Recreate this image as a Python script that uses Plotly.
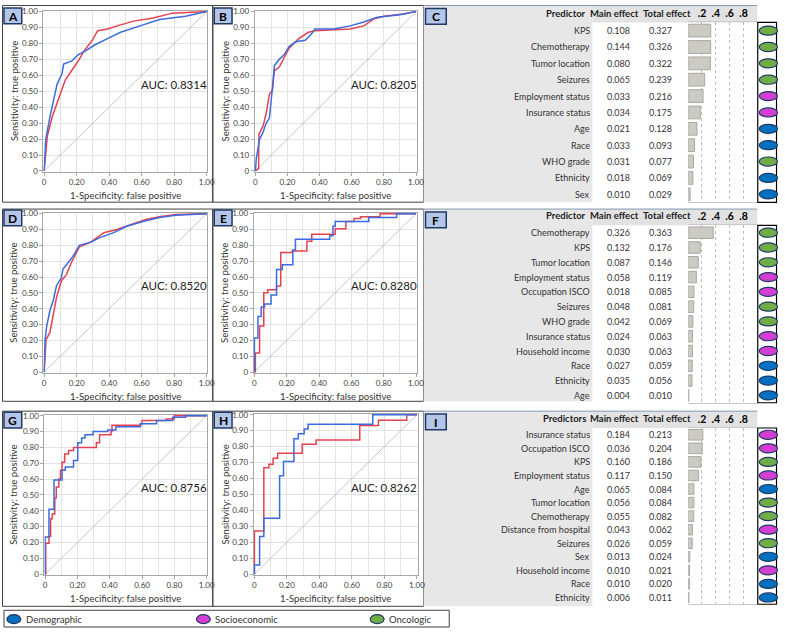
import plotly.graph_objects as go

W, H = 785, 633
FONT = "Lato"

# ROC curves (x = 1-specificity, y = sensitivity)
a_blue_x = [0, 0.01, 0.04, 0.08, 0.11, 0.12, 0.17, 0.21, 0.25, 0.31, 0.39, 0.47, 0.59, 0.71, 0.87, 1.0]
a_blue_y = [0, 0.20, 0.36, 0.545, 0.61, 0.67, 0.69, 0.73, 0.75, 0.79, 0.83, 0.87, 0.91, 0.95, 0.97, 1.0]
a_red_x = [0, 0.02, 0.05, 0.09, 0.13, 0.17, 0.21, 0.25, 0.29, 0.33, 0.39, 0.45, 0.55, 0.67, 0.79, 1.0]
a_red_y = [0, 0.22, 0.34, 0.46, 0.57, 0.63, 0.69, 0.76, 0.81, 0.88, 0.89, 0.91, 0.94, 0.96, 0.99, 1.0]

b_blue_x = [0, 0.006, 0.016, 0.026, 0.047, 0.067, 0.087, 0.097, 0.107, 0.118, 0.148, 0.18, 0.21, 0.25,
            0.31, 0.35, 0.37, 0.49, 0.59, 0.675, 0.76, 0.9, 1.0]
b_blue_y = [0, 0.08, 0.14, 0.2, 0.24, 0.3, 0.33, 0.42, 0.53, 0.66, 0.7, 0.73, 0.78, 0.81,
            0.82, 0.86, 0.89, 0.89, 0.91, 0.935, 0.965, 0.98, 1.0]
b_red_x = [0, 0.02, 0.022, 0.047, 0.067, 0.087, 0.107, 0.118, 0.148, 0.18, 0.21, 0.27, 0.33, 0.37,
           0.59, 0.675, 0.74, 0.8, 0.92, 1.0]
b_red_y = [0, 0.015, 0.23, 0.28, 0.36, 0.48, 0.51, 0.63, 0.65, 0.71, 0.77, 0.83, 0.87, 0.88,
           0.89, 0.91, 0.955, 0.97, 0.985, 1.0]

d_blue_x = [0, 0.006, 0.016, 0.036, 0.056, 0.076, 0.106, 0.116, 0.147, 0.177, 0.217, 0.287, 0.347,
            0.428, 0.508, 0.608, 0.71, 0.81, 1.0]
d_blue_y = [0, 0.205, 0.29, 0.39, 0.45, 0.545, 0.595, 0.65, 0.69, 0.73, 0.8, 0.82, 0.85,
            0.88, 0.92, 0.95, 0.975, 0.99, 1.0]
d_red_x = [0, 0.006, 0.012, 0.036, 0.056, 0.076, 0.106, 0.137, 0.167, 0.217, 0.287, 0.367, 0.448,
           0.548, 0.63, 0.71, 0.81, 1.0]
d_red_y = [0, 0.12, 0.205, 0.25, 0.35, 0.47, 0.575, 0.615, 0.69, 0.79, 0.82, 0.88, 0.9,
           0.935, 0.965, 0.98, 0.995, 1.0]

e_blue_x = [0, 0, 0.022, 0.042, 0.0625, 0.103, 0.137, 0.173, 0.238, 0.254, 0.466, 0.486, 0.5, 0.708, 0.88, 1.0]
e_blue_y = [0, 0.215, 0.35, 0.41, 0.43, 0.487, 0.647, 0.678, 0.77, 0.838, 0.86, 0.92, 0.95, 0.975, 1.0, 1.0]
e_red_x = [0, 0.006, 0.032, 0.058, 0.083, 0.137, 0.163, 0.234, 0.325, 0.355, 0.5, 0.566, 0.617, 0.657, 0.778, 1.0]
e_red_y = [0, 0.12, 0.29, 0.5, 0.52, 0.544, 0.754, 0.764, 0.825, 0.87, 0.905, 0.95, 0.97, 0.98, 1.0, 1.0]

g_blue_x = [0, 0, 0.024, 0.055, 0.105, 0.125, 0.176, 0.202, 0.226, 0.247, 0.297, 0.388, 0.438,
            0.59, 0.69, 0.79, 0.87, 1.0]
g_blue_y = [0, 0.235, 0.41, 0.594, 0.656, 0.676, 0.717, 0.83, 0.86, 0.88, 0.9, 0.91, 0.93,
            0.95, 0.97, 0.99, 1.0, 1.0]
g_red_x = [0, 0.004, 0.024, 0.034, 0.044, 0.06, 0.069, 0.085, 0.095, 0.105, 0.121, 0.145, 0.176,
           0.287, 0.317, 0.337, 0.408, 0.414, 0.59, 0.6, 0.75, 0.8, 1.0]
g_red_y = [0, 0.195, 0.24, 0.35, 0.38, 0.48, 0.55, 0.6, 0.656, 0.707, 0.758, 0.78, 0.8,
           0.8, 0.83, 0.88, 0.9, 0.94, 0.95, 0.97, 0.98, 1.0, 1.0]

h_blue_x = [0, 0, 0.032, 0.058, 0.155, 0.179, 0.243, 0.27, 0.306, 0.33, 0.728, 1.0]
h_blue_y = [0, 0.057, 0.236, 0.35, 0.617, 0.707, 0.85, 0.88, 0.91, 0.94, 1.0, 1.0]
h_red_x = [0, 0, 0.058, 0.089, 0.115, 0.143, 0.294, 0.38, 0.648, 0.763, 0.937, 1.0]
h_red_y = [0, 0.27, 0.668, 0.69, 0.727, 0.758, 0.815, 0.842, 0.932, 0.965, 1.0, 1.0]

diag = [0, 1]
auc_texts = ["AUC: 0.8314", "AUC: 0.8205", "AUC: 0.8520", "AUC: 0.8280", "AUC: 0.8756", "AUC: 0.8262"]
x_ticks = [0, 0.2, 0.4, 0.6, 0.8, 1.0]
x_tick_text = ["0", "0.20", "0.40", "0.60", "0.80", "1.00"]
y_ticks = [0, 0.1, 0.2, 0.3, 0.4, 0.5, 0.6, 0.7, 0.8, 0.9, 1.0]
y_tick_text = ["0", "0.10", "0.20", "0.30", "0.40", "0.50", "0.60", "0.70", "0.80", "0.90", "1.00"]

# variable importance tables
c_predictors = ["KPS", "Chemotherapy", "Tumor location", "Seizures", "Employment status",
                "Insurance status", "Age", "Race", "WHO grade", "Ethnicity", "Sex"]
c_main = [0.108, 0.144, 0.080, 0.065, 0.033, 0.034, 0.021, 0.033, 0.031, 0.018, 0.010]
c_total = [0.327, 0.326, 0.322, 0.239, 0.216, 0.175, 0.128, 0.093, 0.077, 0.069, 0.029]
c_group = ["Oncologic", "Oncologic", "Oncologic", "Oncologic", "Socioeconomic", "Socioeconomic",
           "Demographic", "Demographic", "Oncologic", "Demographic", "Demographic"]

f_predictors = ["Chemotherapy", "KPS", "Tumor location", "Employment status", "Occupation ISCO",
                "Seizures", "WHO grade", "Insurance status", "Household income", "Race", "Ethnicity", "Age"]
f_main = [0.326, 0.132, 0.087, 0.058, 0.018, 0.048, 0.042, 0.024, 0.030, 0.027, 0.035, 0.004]
f_total = [0.363, 0.176, 0.146, 0.119, 0.085, 0.081, 0.069, 0.063, 0.063, 0.059, 0.056, 0.010]
f_group = ["Oncologic", "Oncologic", "Oncologic", "Socioeconomic", "Socioeconomic", "Oncologic",
           "Oncologic", "Socioeconomic", "Socioeconomic", "Demographic", "Demographic", "Demographic"]

i_predictors = ["Insurance status", "Occupation ISCO", "KPS", "Employment status", "Age",
                "Tumor location", "Chemotherapy", "Distance from hospital", "Seizures", "Sex",
                "Household income", "Race", "Ethnicity"]
i_main = [0.184, 0.036, 0.160, 0.117, 0.065, 0.056, 0.055, 0.043, 0.026, 0.013, 0.010, 0.010, 0.006]
i_total = [0.213, 0.204, 0.186, 0.150, 0.084, 0.084, 0.082, 0.062, 0.059, 0.024, 0.021, 0.020, 0.011]
i_group = ["Socioeconomic", "Socioeconomic", "Oncologic", "Socioeconomic", "Demographic",
           "Oncologic", "Oncologic", "Socioeconomic", "Oncologic", "Demographic",
           "Socioeconomic", "Demographic", "Demographic"]

bar_ticks = [0.2, 0.4, 0.6, 0.8]
bar_tick_text = [".2", ".4", ".6", ".8"]
groups = ["Demographic", "Socioeconomic", "Oncologic"]
group_colors = {"Demographic": "#0070c0", "Socioeconomic": "#d23fd2", "Oncologic": "#70ad47"}

BLUE = "#3b6be0"
RED = "#e5414f"
GRID = "#e3e3e3"
DARK = "#404040"


def fx(p):
    return p / W


def fy(p):
    return 1 - p / H


fig = go.Figure()
shapes = []
annotations = []
layout = {}


def rect(x0, y0, x1, y1, fill="rgba(0,0,0,0)", line=None, lw=1.0):
    shapes.append(dict(type="rect", xref="paper", yref="paper", layer="below",
                       x0=fx(x0), x1=fx(x1), y0=fy(y1), y1=fy(y0), fillcolor=fill,
                       line=dict(color=line or "rgba(0,0,0,0)", width=lw if line else 0)))


def text(x, y, s, size=9, color="#333333", xanchor="center", bold=False, angle=0):
    annotations.append(dict(x=fx(x), y=fy(y), xref="paper", yref="paper", text=s, showarrow=False,
                            xanchor=xanchor, yanchor="middle", textangle=angle, borderpad=0,
                            font=dict(family=FONT, size=size, color=color,
                                      weight="bold" if bold else "normal")))


# panel frames: (top, bottom) of each row
rows = [(0.5, 200), (207, 402), (412, 610)]
for top, bot in rows:
    rect(0.5, top, 213.5, bot, line=DARK, lw=1)
    rect(213.5, top, 427, bot, line=DARK, lw=1)

# ROC panels
roc_curves = [
    (a_blue_x, a_blue_y, a_red_x, a_red_y, "linear"),
    (b_blue_x, b_blue_y, b_red_x, b_red_y, "linear"),
    (d_blue_x, d_blue_y, d_red_x, d_red_y, "linear"),
    (e_blue_x, e_blue_y, e_red_x, e_red_y, "hv"),
    (g_blue_x, g_blue_y, g_red_x, g_red_y, "hv"),
    (h_blue_x, h_blue_y, h_red_x, h_red_y, "hv"),
]
roc_boxes = [(42, 208, 6, 169), (256, 420, 6, 169), (42, 208, 211, 373),
             (255, 420, 211, 373), (43, 208, 416, 578), (255, 421, 415, 578)]
roc_letters = ["A", "B", "D", "E", "G", "H"]
xtitle_y = [193, 193, 397, 397, 602, 602]
ytitle_x = [12, 226, 12, 226, 12, 226]
letter_boxes = [(2, 3), (215, 3), (2, 208), (215, 208), (2, 413), (215, 413)]

for k in range(6):
    n = k + 1
    xs = "x" if n == 1 else f"x{n}"
    ys = "y" if n == 1 else f"y{n}"
    bx, by, rx, ry, shape = roc_curves[k]
    x0, x1, y0, y1 = roc_boxes[k]
    fig.add_trace(go.Scatter(x=diag, y=diag, mode="lines", line=dict(color="#b8b8b8", width=0.8),
                             xaxis=xs, yaxis=ys, hoverinfo="skip"))
    fig.add_trace(go.Scatter(x=rx, y=ry, mode="lines", line=dict(color=RED, width=1.5, shape=shape),
                             xaxis=xs, yaxis=ys))
    fig.add_trace(go.Scatter(x=bx, y=by, mode="lines", line=dict(color=BLUE, width=1.5, shape=shape),
                             xaxis=xs, yaxis=ys))
    axis_common = dict(showline=True, linecolor="#a6a6a6", mirror=True, ticks="outside", ticklen=3,
                       tickcolor="#a6a6a6", tickfont=dict(family=FONT, size=8, color="#404040"),
                       zeroline=False, showgrid=True, gridcolor=GRID, gridwidth=1)
    layout["xaxis" if n == 1 else f"xaxis{n}"] = dict(
        domain=[fx(x0), fx(x1)], range=[-0.004, 1.004], anchor=ys,
        tickvals=x_ticks, ticktext=x_tick_text,
        minor=dict(tickvals=[0.1, 0.3, 0.5, 0.7, 0.9], showgrid=True, gridcolor=GRID, ticks=""),
        **axis_common)
    layout["yaxis" if n == 1 else f"yaxis{n}"] = dict(
        domain=[fy(y1), fy(y0)], range=[-0.004, 1.004], anchor=xs,
        tickvals=y_ticks, ticktext=y_tick_text, **axis_common)
    annotations.append(dict(x=0.8, y=0.545, xref=xs, yref=ys, text=auc_texts[k], showarrow=False,
                            font=dict(family=FONT, size=11.5, color="#222222")))
    text((x0 + x1) / 2, xtitle_y[k], "1-Specificity: false positive", size=9.5)
    text(ytitle_x[k], (y0 + y1) / 2, "Sensitivity: true positive", size=9.5, angle=-90)
    lx, ly = letter_boxes[k]
    rect(lx, ly, lx + 18, ly + 16, fill="#b4c6e7", line="#1f3864", lw=1.5)
    text(lx + 9, ly + 8.5, roc_letters[k], size=12, color="black", bold=True)

# importance tables
tables = [
    ("C", "Predictor", c_predictors, c_main, c_total, c_group, 0.5, 200, 9, 26, 16.6),
    ("F", "Predictor", f_predictors, f_main, f_total, f_group, 207, 402, 214, 231, 15.0),
    ("I", "Predictors", i_predictors, i_main, i_total, i_group, 412, 610, 419, 436, 13.75),
]
for t, (letter, head, names, main, total, grp, top, bot, head_y, first, step) in enumerate(tables):
    n = 7 + t
    nrow = len(names)
    d_top = first - step / 2
    d_bot = first + (nrow - 1) * step + step / 2
    # gray panel parts
    rect(427, top, 598, bot, fill="#e7e7e7")
    rect(598, top, 765, d_top, fill="#e2e2e2")
    shapes.append(dict(type="line", xref="paper", yref="paper", layer="below",
                       x0=fx(427), x1=fx(765), y0=fy(top), y1=fy(top),
                       line=dict(color="#8497b0", width=1)))
    rect(765.5, d_top, 784.5, d_bot, fill="white", line="black", lw=1.2)
    rect(429, top + 3, 450, top + 19, fill="#b4c6e7", line="#1f3864", lw=1.5)
    text(439.5, top + 11.5, letter, size=12, color="black", bold=True)

    rows_idx = list(range(nrow))
    fig.add_trace(go.Bar(x=total, y=rows_idx, orientation="h", width=0.78,
                         marker=dict(color="#cbcbc4", line=dict(color="#a9a9a2", width=1)),
                         xaxis=f"x{n}", yaxis=f"y{n}"))
    layout[f"xaxis{n}"] = dict(domain=[fx(695), fx(765)], range=[0, 1], anchor=f"y{n}", side="top",
                               tickvals=bar_ticks, ticktext=bar_tick_text, ticks="",
                               showgrid=True, griddash="dot", gridcolor="#bdbdbd",
                               showline=True, linecolor="#c9c9c9", mirror=True, zeroline=False,
                               tickfont=dict(family=FONT, size=10.5, color="black", weight="bold"))
    layout[f"yaxis{n}"] = dict(domain=[fy(d_bot), fy(d_top)], range=[nrow - 0.5, -0.5], anchor=f"x{n}",
                               showticklabels=False, showgrid=False, zeroline=False, showline=False)

    text(593, head_y, head, size=9.5, color="#222222", bold=True, xanchor="right")
    text(620, head_y, "Main effect", size=9.5, color="#222222", bold=True)
    text(674, head_y, "Total effect", size=9.5, color="#222222", bold=True)
    half = 4.6 / step
    for r in rows_idx:
        yy = first + r * step
        text(597, yy, names[r], size=9, xanchor="right")
        text(624, yy, f"{main[r]:.3f}", size=9)
        text(667, yy, f"{total[r]:.3f}", size=9)
        shapes.append(dict(type="circle", xref="paper", yref=f"y{n}", x0=fx(767), x1=fx(785.5),
                           y0=r - half, y1=r + half, fillcolor=group_colors[grp[r]],
                           line=dict(color="#1f3864", width=1.2)))

# legend strip
rect(2, 614, 453, 631, fill="white", line=DARK, lw=1)
legend_x = [5, 197, 373]
for g, lx in zip(groups, legend_x):
    shapes.append(dict(type="circle", xref="paper", yref="paper", x0=fx(lx), x1=fx(lx + 14),
                       y0=fy(627.5), y1=fy(618.5), fillcolor=group_colors[g],
                       line=dict(color="#1f3864", width=1.2)))
    text(lx + 18, 623, g, size=9.5, xanchor="left")

fig.update_layout(
    width=W, height=H, margin=dict(l=0, r=0, t=0, b=0),
    paper_bgcolor="white", plot_bgcolor="white", showlegend=False,
    font=dict(family=FONT), shapes=shapes, annotations=annotations, bargap=0.2,
    **layout,
)
# drop the page's default body margin and any scrollbars so the figure fills the window
fig.write_html(
    "out.html",
    config={"displayModeBar": False},
    post_script="document.body.style.margin='0';document.body.style.overflow='hidden';"
                "document.documentElement.style.overflow='hidden';",
)
